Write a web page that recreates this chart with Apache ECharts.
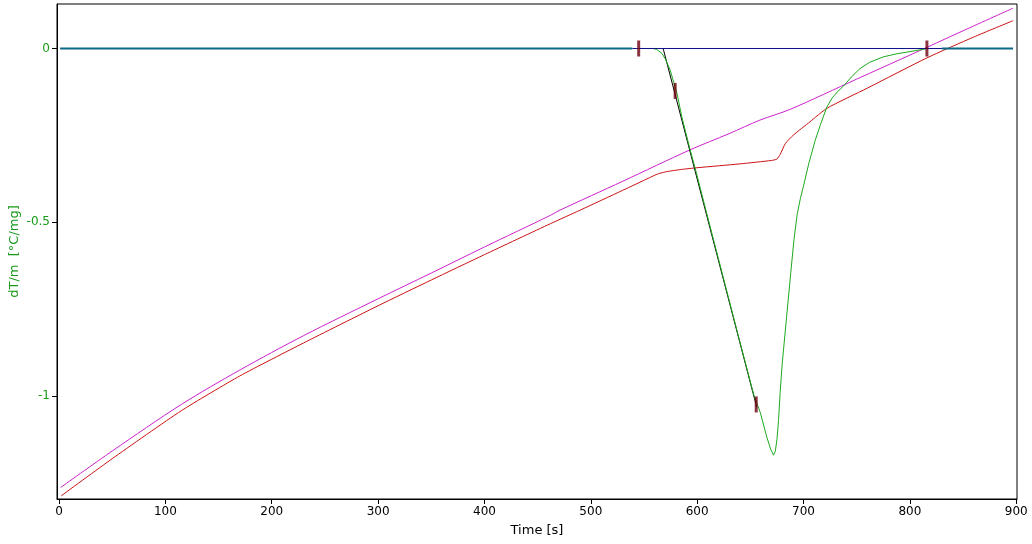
<!DOCTYPE html>
<html>
<head>
<meta charset="utf-8">
<script src="https://cdn.jsdelivr.net/npm/echarts@6/dist/echarts.min.js"></script>
<style>
html,body{margin:0;padding:0;background:#fff;}
#chart{width:1032px;height:544px;}
</style>
</head>
<body>
<div id="chart"></div>
<script>
// ---- data ----
const xTicks = [0, 100, 200, 300, 400, 500, 600, 700, 800, 900];
const yTicks = [0, -0.5, -1];

const magenta = [[1.5,-1.263],[50,-1.158],[115,-1.024],[170,-0.925],[230,-0.826],[300,-0.720],[350,-0.646],[400,-0.571],[462,-0.480],[471,-0.465],[530,-0.382],[593,-0.292],[630,-0.245],[659,-0.206],[687.5,-0.175],[750,-0.088],[800,-0.019],[850,0.051],[897,0.116]];

const red = [[2,-1.287],[50,-1.180],[115,-1.042],[170,-0.942],[230,-0.847],[300,-0.740],[350,-0.666],[400,-0.593],[462,-0.504],[490,-0.465],[530,-0.408],[555,-0.372],[562,-0.362],[570,-0.355],[585,-0.348],[600,-0.343],[640,-0.332],[670,-0.322],[675,-0.318],[678,-0.305],[683,-0.273],[690.5,-0.249],[706,-0.211],[722,-0.172],[760,-0.114],[816,-0.027],[860,0.033],[897,0.080]];

const green = [[545,0],[558.6,0],[562,-0.003],[566.8,-0.014],[570,-0.030],[574.6,-0.062],[578,-0.098],[581,-0.129],[585.6,-0.197],[593.4,-0.292],[598,-0.343],[608.2,-0.465],[620,-0.605],[640,-0.842],[653,-0.994],[659.3,-1.047],[665.5,-1.118],[669,-1.152],[671.8,-1.170],[673.5,-1.158],[675,-1.125],[676.5,-1.070],[678,-0.990],[680,-0.905],[684,-0.775],[688,-0.645],[691,-0.550],[694,-0.478],[697,-0.432],[700,-0.395],[705,-0.330],[711,-0.264],[716,-0.218],[722,-0.168],[727,-0.142],[732,-0.124],[737.6,-0.108],[745,-0.082],[753,-0.058],[762,-0.040],[775,-0.024],[788,-0.015],[800,-0.009],[813,-0.002],[818,0],[830,0]];

const tangent = [[568,0],[656,-1.032]];
const baselineLeft = [[1,0],[539,0]];
const baselineRight = [[830,0],[897,0]];
const baselineMid = [[539,0],[830,0]];
const markers = [[545,0],[579.3,-0.122],[655.5,-1.024],[816,0]];

const chart = echarts.init(document.getElementById('chart'), null, {renderer:'canvas'});
const font = 'DejaVu Sans';
function line(data, color, width, z, smooth){
  return {type:'line', data:data, showSymbol:false, symbol:'none', smooth:smooth || false,
    lineStyle:{color:color, width:width}, itemStyle:{color:color}, z:z, silent:true, animation:false};
}
chart.setOption({
  animation:false,
  backgroundColor:'#fff',
  grid:{left:57, right:15, top:4, bottom:45, show:true, borderColor:'#000', borderWidth:1, backgroundColor:'#fff',
    outerBoundsMode:'none', containLabel:false},
  xAxis:{
    type:'value', min:-1.9, max:900.7,
    name:'Time [s]', nameLocation:'middle', nameGap:25, nameMoveOverlap:false,
    nameTextStyle:{color:'#000', fontFamily:font, fontSize:13},
    axisLine:{show:true, onZero:false, lineStyle:{color:'#000', width:1}},
    axisTick:{show:true, length:5, inside:false, customValues:xTicks, lineStyle:{color:'#000'}},
    axisLabel:{show:true, customValues:xTicks, color:'#000', fontFamily:font, fontSize:12, margin:7},
    splitLine:{show:false}
  },
  yAxis:{
    type:'value', min:-1.296, max:0.128,
    name:'dT/m  [°C/mg]', nameLocation:'middle', nameGap:36, nameRotate:90, nameMoveOverlap:false,
    nameTextStyle:{color:'#1a9a1a', fontFamily:font, fontSize:13},
    axisLine:{show:true, onZero:false, lineStyle:{color:'#000', width:1}},
    axisTick:{show:true, length:5, inside:false, customValues:yTicks, lineStyle:{color:'#000'}},
    axisLabel:{show:true, customValues:yTicks, color:'#1a9a1a', fontFamily:font, fontSize:12, margin:7,
      formatter:function(v){return String(Math.round(v*10)/10);}},
    splitLine:{show:false}
  },
  series:[
    line(magenta, '#cc22cc', 1, 2, 0.3),
    line(red, '#cc1111', 1, 3, 0.2),
    line(tangent, '#000000', 1, 4),
    line(green, '#1eaa1e', 1, 5),
    line(baselineMid, '#10108c', 1, 6),
    line(baselineLeft, '#0a6a8a', 2, 6),
    line(baselineRight, '#0a6a8a', 2, 6),
    {type:'scatter', data:markers, symbol:'rect', symbolSize:[3,16],
      itemStyle:{color:'#6e0010'}, z:10, silent:true, animation:false}
  ]
});
</script>
</body>
</html>
